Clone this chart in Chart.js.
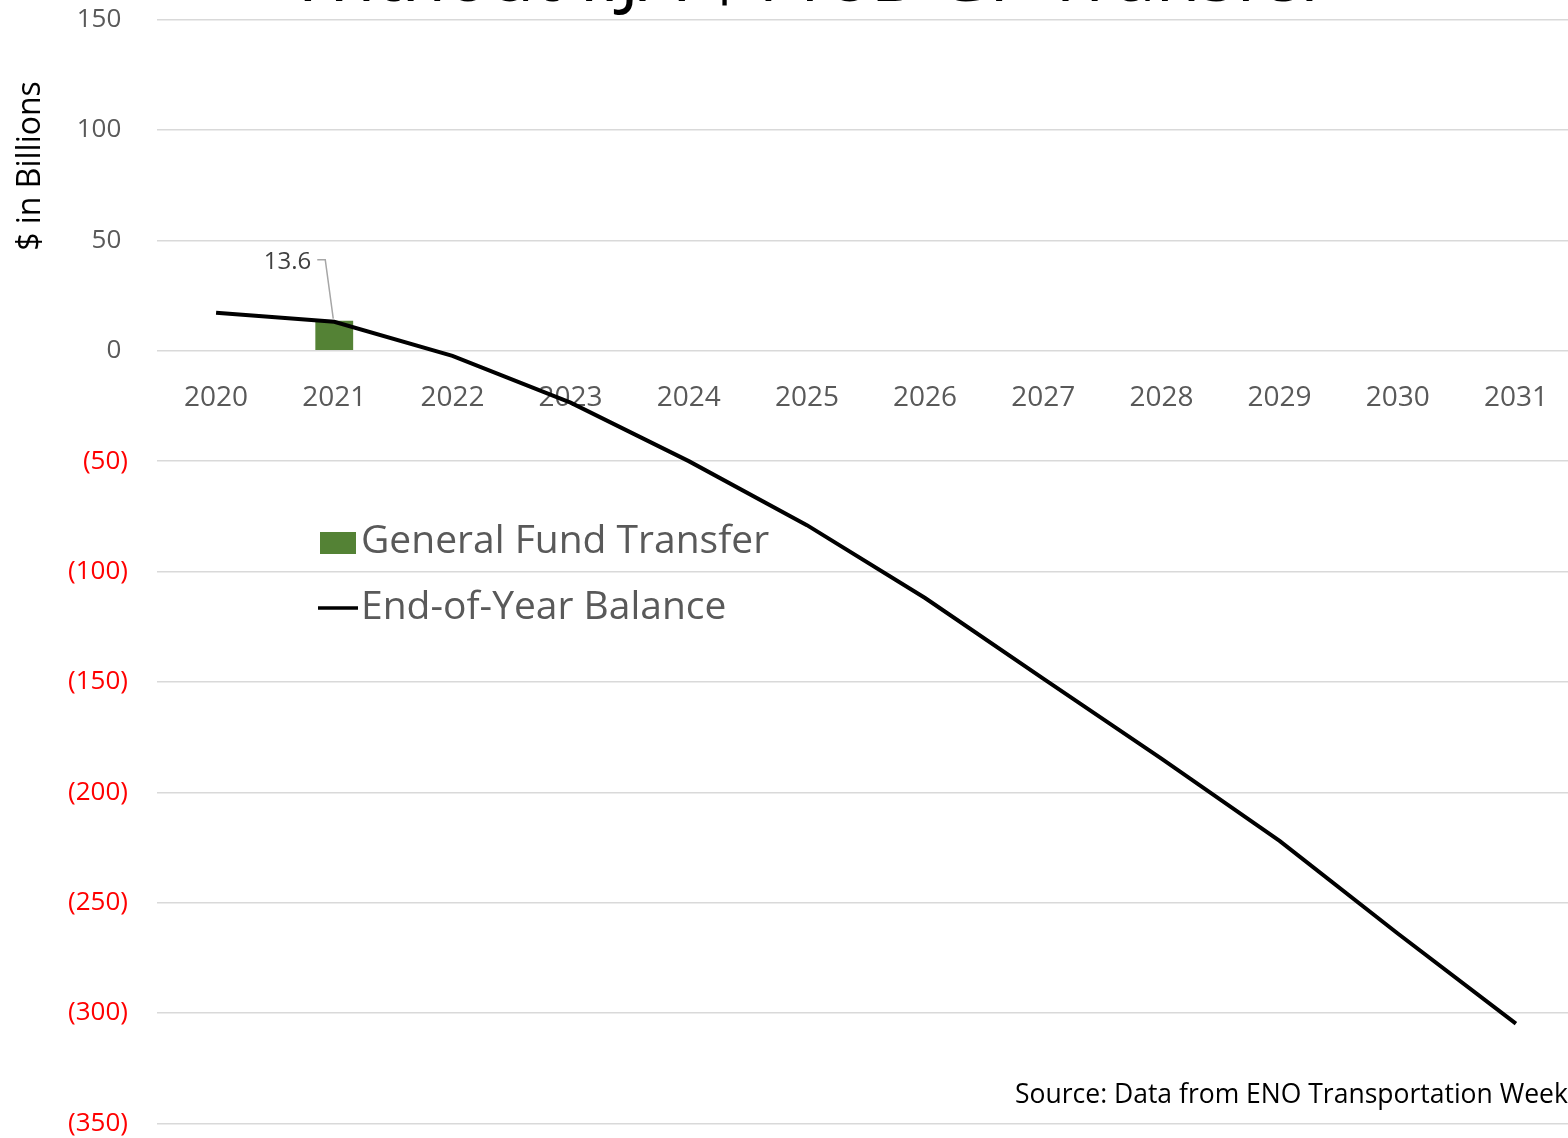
<!DOCTYPE html>
<html>
<head>
<meta charset="utf-8">
<script src="https://cdn.jsdelivr.net/npm/chart.js@4.4.0/dist/chart.umd.min.js"></script>
<style>
  html, body { margin: 0; padding: 0; background: #fff; overflow: hidden; height: 1138px; }
  canvas { display: block; margin-top: -25px; }
</style>
</head>
<body>
<canvas id="chart" width="1580" height="1193"></canvas>
<script>
const years = ['2020', '2021', '2022', '2023', '2024', '2025', '2026', '2027', '2028', '2029', '2030', '2031'];
const gfTransfer = [null, 13.6, null, null, null, null, null, null, null, null, null, null];
const balance = [17.2, 13.1, -2.3, -23.5, -50, -79, -112, -148.5, -184.8, -222, -264, -304.8];
const yTicks = [150, 100, 50, 0, -50, -100, -150, -200, -250, -300, -350];

const FONT = "'Open Sans', 'Noto Sans', sans-serif";
const OY = 25; // canvas is shifted up by this much

// text drawn straight on the canvas: cut-off title, axis title, label, legend, source
const extras = {
  id: 'extras',
  afterDatasetsDraw(chart) {
    let ctx = chart.ctx;
    ctx.save();

    // data label for the bar with leader line
    let bar = chart.getDatasetMeta(0).data[1];
    ctx.strokeStyle = '#a6a6a6';
    ctx.lineWidth = 1.5;
    ctx.beginPath();
    ctx.moveTo(bar.x - 17, bar.y - 61);
    ctx.lineTo(bar.x - 9, bar.y - 61);
    ctx.lineTo(bar.x - 1, bar.y - 2);
    ctx.stroke();
    ctx.font = `24px ${FONT}`;
    ctx.fillStyle = '#404040';
    ctx.textAlign = 'right';
    ctx.textBaseline = 'middle';
    ctx.fillText(gfTransfer[1].toFixed(1), bar.x - 23, bar.y - 59);

    ctx.translate(0, OY);

    // title (only bottom of it is visible)
    let title = 'Without IIJA $118B GF Transfer';
    ctx.font = `60px ${FONT}`;
    let w = ctx.measureText(title).width;
    let size = 60 * 1040 / w;
    ctx.font = `${size}px ${FONT}`;
    ctx.fillStyle = '#000';
    ctx.textAlign = 'left';
    ctx.textBaseline = 'alphabetic';
    ctx.fillText(title, 290, 1);

    // y axis title
    ctx.save();
    ctx.translate(31, 166);
    ctx.rotate(-Math.PI / 2);
    ctx.font = `32px ${FONT}`;
    ctx.textAlign = 'center';
    ctx.textBaseline = 'middle';
    ctx.fillText('$ in Billions', 0, 0);
    ctx.restore();

    // legend
    ctx.fillStyle = '#548235';
    ctx.fillRect(320, 532, 36, 22);
    ctx.strokeStyle = '#000';
    ctx.lineWidth = 3.5;
    ctx.beginPath();
    ctx.moveTo(318, 608);
    ctx.lineTo(358, 608);
    ctx.stroke();
    ctx.font = `39px ${FONT}`;
    ctx.fillStyle = '#595959';
    ctx.textAlign = 'left';
    ctx.textBaseline = 'middle';
    ctx.fillText('General Fund Transfer', 361, 542);
    ctx.fillText('End-of-Year Balance', 361, 608);

    // source
    ctx.font = `26.5px ${FONT}`;
    ctx.fillStyle = '#000';
    ctx.fillText('Source: Data from ENO Transportation Weekly', 1015, 1095);

    ctx.restore();
  }
};

new Chart(document.getElementById('chart'), {
  type: 'bar',
  data: {
    labels: years,
    datasets: [
      {
        type: 'bar',
        label: 'General Fund Transfer',
        data: gfTransfer,
        backgroundColor: '#548235',
        categoryPercentage: 1,
        barPercentage: 0.32,
        order: 1
      },
      {
        type: 'line',
        label: 'End-of-Year Balance',
        data: balance,
        borderColor: '#000',
        borderWidth: 4,
        pointRadius: 0,
        tension: 0,
        order: 0
      }
    ]
  },
  options: {
    responsive: false,
    animation: false,
    devicePixelRatio: 1,
    layout: { padding: { top: 0, bottom: 0, left: 0, right: 5 } },
    plugins: {
      legend: { display: false },
      tooltip: { enabled: false }
    },
    scales: {
      x: {
        position: { y: 0 },
        offset: true,
        grid: { display: false, drawTicks: false },
        border: { display: false },
        ticks: {
          color: '#595959',
          font: { family: FONT, size: 28 },
          padding: 30,
          maxRotation: 0,
          autoSkip: false
        }
      },
      y: {
        min: -350,
        max: 150,
        afterFit(scale) { scale.width = 157; },
        afterBuildTicks(scale) { scale.ticks = yTicks.map(v => ({ value: v })); },
        grid: { color: '#d9d9d9', lineWidth: 1.5, drawTicks: false },
        border: { display: false },
        ticks: {
          padding: 29,
          font: { family: FONT, size: 26 },
          color: (c) => c.tick && c.tick.value < 0 ? '#ff0000' : '#595959',
          callback: (v) => v < 0 ? `(${-v})` : `${v} `
        }
      }
    }
  },
  plugins: [extras]
});
</script>
</body>
</html>
